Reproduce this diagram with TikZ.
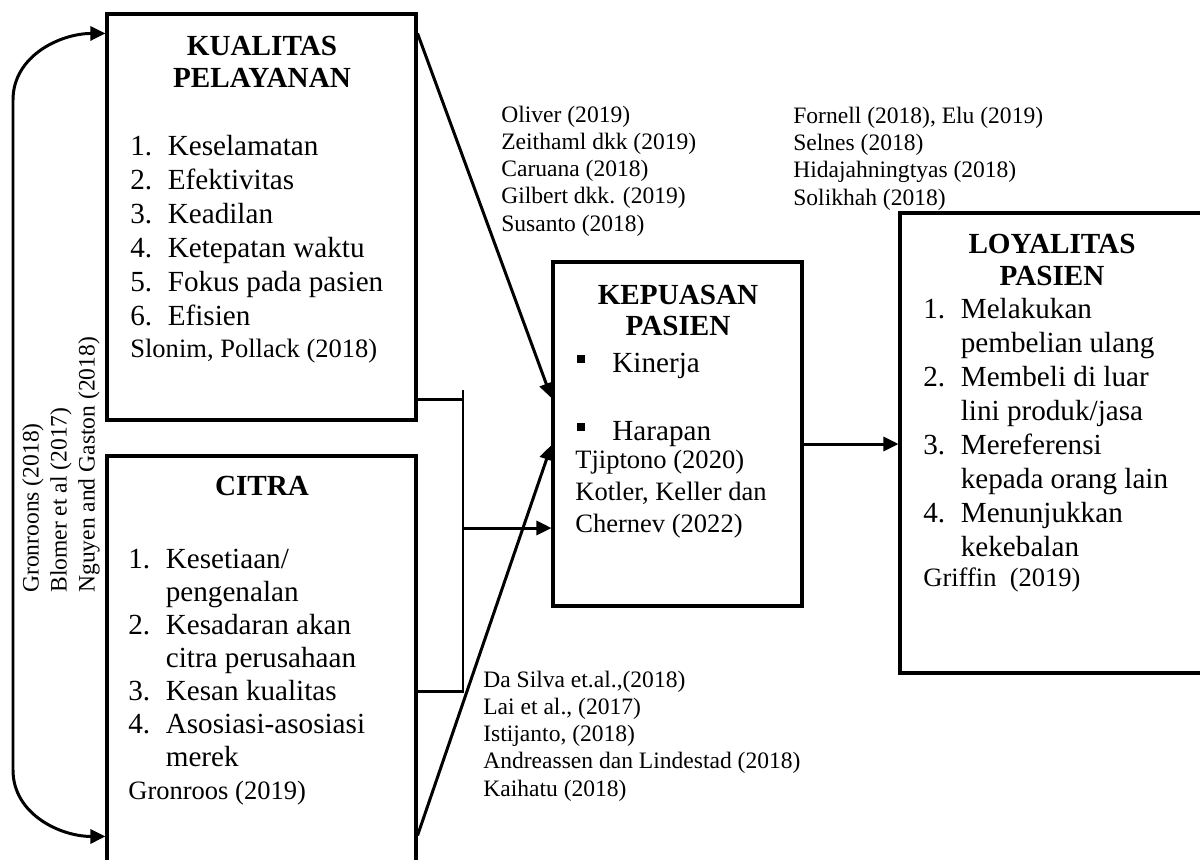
\documentclass[tikz,border=0pt]{standalone}
\usepackage{fontspec}
\setmainfont{Liberation Serif}
\usepackage{tikz}
\usetikzlibrary{arrows.meta, calc}
\tikzstyle{box_style} = [rectangle, draw, line width=1.8pt, inner sep=0pt]
\tikzstyle{line_style} = [line width=1.7pt]
\tikzstyle{arrow_style} = [line width=1.7pt, -{Triangle[length=0.3cm, width=0.28cm]}]
\tikzstyle{title_style} = [inner sep=0pt, align=center, anchor=base, font=\bfseries\fontsize{16.6pt}{18.2pt}\selectfont]
\tikzstyle{list_style} = [inner sep=0pt, align=left, anchor=base west, font=\fontsize{16.6pt}{19.3pt}\selectfont]
\tikzstyle{cite_style} = [inner sep=0pt, align=left, anchor=base west, font=\fontsize{15.1pt}{18.2pt}\selectfont]
\tikzstyle{ref_style} = [inner sep=0pt, align=left, anchor=base west, font=\fontsize{13.4pt}{15.4pt}\selectfont]
\newcommand{\nomor}[2]{\makebox[0.75cm][l]{#1}#2}
\newcommand{\lanjut}[1]{\hspace*{0.75cm}#1}
\newcommand{\kotak}{\makebox[0.7cm][l]{\raisebox{0.18cm}{\rule{0.16cm}{0.16cm}}}}

\begin{document}
\begin{tikzpicture}[x=0.02cm, y=-0.02cm]
	\useasboundingbox (0,0) rectangle (1200,859);

	% kotak kiri (base = baris terakhir)
	\node[box_style, minimum width=6.18cm, minimum height=8.12cm] (kualitas) at (261.5,217) {};
	\node[box_style, minimum width=6.18cm, minimum height=8.28cm] (citra) at (261.5,663) {};
	\node[title_style] (judul_kualitas) at (262,87) {KUALITAS\\PELAYANAN};
	\node[list_style] (isi_kualitas) at (130,325) {\nomor{1.}{Keselamatan}\\ \nomor{2.}{Efektivitas}\\ \nomor{3.}{Keadilan}\\ \nomor{4.}{Ketepatan waktu}\\ \nomor{5.}{Fokus pada pasien}\\ \nomor{6.}{Efisien}};
	\node[cite_style] (ref_kualitas) at (130,357) {Slonim, Pollack (2018)};
	\node[title_style] (judul_citra) at (262,495) {CITRA};
	\node[list_style, font=\fontsize{16.6pt}{18.7pt}\selectfont] (isi_citra) at (128,766) {\nomor{1.}{Kesetiaan/}\\ \lanjut{pengenalan}\\ \nomor{2.}{Kesadaran akan}\\ \lanjut{citra perusahaan}\\ \nomor{3.}{Kesan kualitas}\\ \nomor{4.}{Asosiasi-asosiasi}\\ \lanjut{merek}};
	\node[cite_style] (ref_citra) at (128,799) {Gronroos (2019)};

	% kotak tengah
	\node[box_style, minimum width=4.98cm, minimum height=6.88cm] (kepuasan) at (677.5,434) {};
	\node[title_style, font=\bfseries\fontsize{16.6pt}{17.1pt}\selectfont] (judul_kepuasan) at (678,335) {KEPUASAN\\PASIEN};
	\node[list_style] (isi_kepuasan) at (577,440) {\kotak Kinerja\\[0.68cm] \kotak Harapan};
	\node[cite_style] (ref_kepuasan) at (575,532) {Tjiptono (2020)\\Kotler, Keller dan\\Chernev (2022)};

	% kotak kanan
	\node[box_style, minimum width=6.08cm, minimum height=9.2cm] (loyalitas) at (1052,443) {};
	\node[title_style] (judul_loyalitas) at (1052,285) {LOYALITAS\\PASIEN};
	\node[list_style] (isi_loyalitas) at (923,556) {\nomor{1.}{Melakukan}\\ \lanjut{pembelian ulang}\\ \nomor{2.}{Membeli di luar}\\ \lanjut{lini produk/jasa}\\ \nomor{3.}{Mereferensi}\\ \lanjut{kepada orang lain}\\ \nomor{4.}{Menunjukkan}\\ \lanjut{kekebalan}};
	\node[cite_style] (ref_loyalitas) at (923,586) {Griffin\ \ (2019)};

	% rujukan di luar kotak
	\node[ref_style] (ref_atas) at (501,231) {Oliver (2019)\\Zeithaml dkk (2019)\\Caruana (2018)\\Gilbert dkk. (2019)\\Susanto (2018)};
	\node[ref_style] (ref_kanan) at (793,205) {Fornell (2018), Elu (2019)\\Selnes (2018)\\Hidajahningtyas (2018)\\Solikhah (2018)};
	\node[ref_style] (ref_bawah) at (483,796) {Da Silva et.al.,(2018)\\Lai et al., (2017)\\Istijanto, (2018)\\Andreassen dan Lindestad (2018)\\Kaihatu (2018)};
	\node[ref_style, rotate=90, anchor=north west, font=\fontsize{13.4pt}{15.9pt}\selectfont] (ref_kiri) at (22,593) {Gronroons (2018)\\Blomer et al (2017)\\Nguyen and Gaston (2018)};

	% garis penghubung
	\coordinate (join_top) at (463,390);
	\coordinate (join_bot) at (463,693);
	\coordinate (join_mid) at (463,528);
	\coordinate (k_out) at ($(kualitas.east)+(0,182)$);
	\coordinate (c_out) at ($(citra.north east)+(0,237)$);
	\coordinate (p_out) at ($(kepuasan.east)+(0,10)$);
	\draw[line_style] (join_top) -- (join_bot);
	\draw[line_style] (k_out) -- (k_out -| join_top);
	\draw[line_style] (c_out) -- (c_out -| join_top);
	\draw[arrow_style] (join_mid) -- (join_mid -| kepuasan.west);
	\draw[arrow_style] ($(kualitas.north east)+(0,21)$) -- ($(kepuasan.west)+(0,-36)$);
	\draw[arrow_style] ($(citra.north east)+(0,381)$) -- ($(kepuasan.west)+(0,11)$);
	\draw[arrow_style] (p_out) -- (p_out -| loyalitas.west);

	% panah lengkung kiri
	\coordinate (loop_top) at (13,100);
	\coordinate (loop_bot) at (13,770);
	\draw[line_style, {Triangle[length=0.3cm, width=0.28cm]}-{Triangle[length=0.3cm, width=0.28cm]}] ($(kualitas.north west)+(0,21)$) to[out=180, in=90] (loop_top) -- (loop_bot) to[out=-90, in=180] ($(citra.north west)+(0,382)$);

\end{tikzpicture}
\end{document}
